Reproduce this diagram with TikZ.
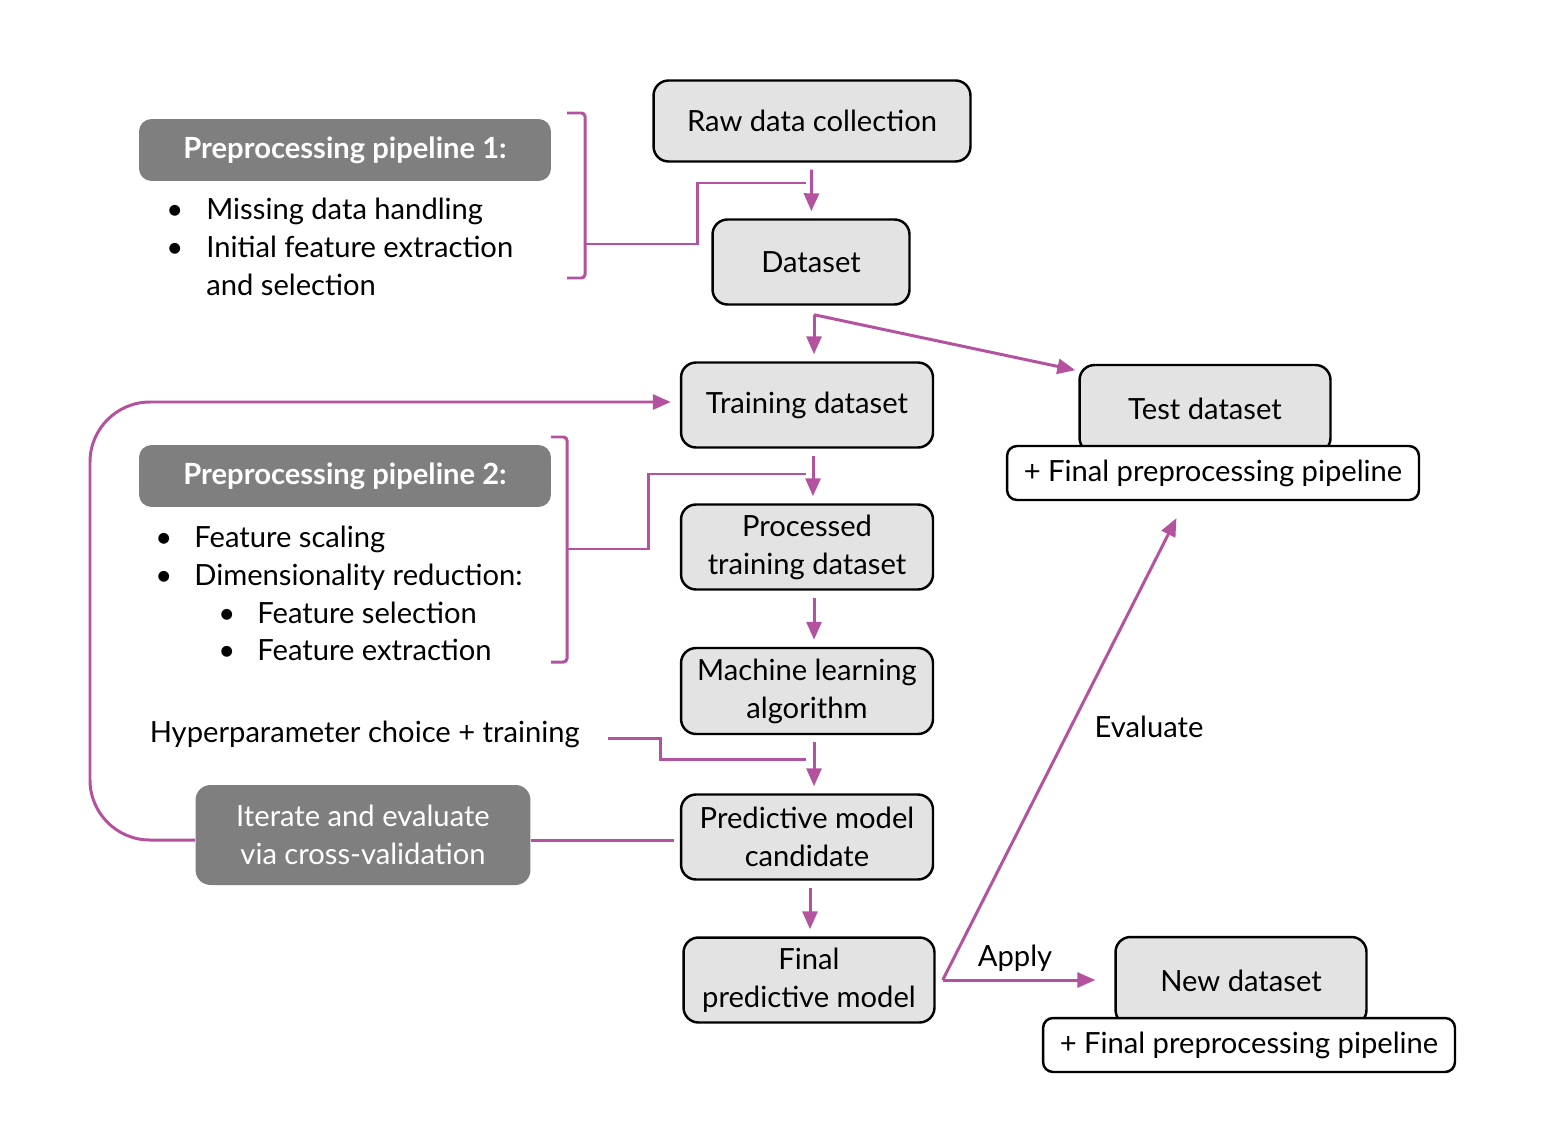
\documentclass[tikz,border=0pt]{standalone}
\usepackage{fontspec}
\setmainfont{Lato}
\usetikzlibrary{arrows.meta,calc}

\definecolor{flowmag}{RGB}{181,82,159}
\definecolor{boxgray}{RGB}{227,227,227}
\definecolor{headgray}{RGB}{127,127,127}

\tikzset{
  stagebox/.style={draw=black, line width=1.4pt, fill=boxgray, rounded corners=0.3cm,
    minimum width=5.04cm, minimum height=1.7cm, align=center, inner sep=2pt},
  plusbox/.style={draw=black, line width=1.4pt, fill=white, rounded corners=0.2cm,
    minimum width=8.24cm, minimum height=1.08cm},
  headbox/.style={fill=headgray, text=white, rounded corners=0.25cm,
    minimum width=8.24cm, minimum height=1.24cm, align=center},
  itemtext/.style={anchor=base west, inner sep=0pt},
  link/.style={draw=flowmag, line width=1.7pt},
  flow/.style={link, -{Triangle[width=0.3cm,length=0.36cm]},
    shorten >=0.14cm, shorten <=0.14cm},
}

\begin{document}
\begin{tikzpicture}[x=0.02cm, y=-0.02cm, font=\fontsize{16.6}{21.6}\selectfont]
    \useasboundingbox (0,0) rectangle (1550,1142);

    % Main stages
    \node[stagebox, minimum width=6.34cm, minimum height=1.62cm] (raw) at (812,121) {Raw data collection};
    \node[stagebox, minimum width=3.94cm] (dataset) at (811,262) {Dataset};
    \node[stagebox] (train) at (807,405) {Training dataset};
    \node[stagebox] (proc) at (807,547) {Processed\\training dataset};
    \node[stagebox, minimum height=1.72cm] (mlalg) at (807,691) {Machine learning\\algorithm};
    \node[stagebox] (cand) at (807,837) {Predictive model\\candidate};
    \node[stagebox, minimum width=5.02cm] (final) at (809,980) {Final\\predictive model};

    % Test and new data
    \node[stagebox, minimum width=5.02cm, minimum height=1.76cm] (test) at (1205,409) {Test dataset};
    \node[plusbox] (testplus) at (1213,473) {+ Final preprocessing pipeline};
    \node[stagebox, minimum width=5.02cm, minimum height=1.76cm] (new) at (1241,981) {New dataset};
    \node[plusbox] (newplus) at (1249,1045) {+ Final preprocessing pipeline};

    % Pipeline 1
    \node[headbox] (pp1) at (345,150) {\bfseries Preprocessing pipeline 1:};
    \node[itemtext] (pp1a) at (166,219) {•};
    \node[itemtext] (pp1b) at (166,257) {•};
    \node[itemtext] at (206,219) {Missing data handling};
    \node[itemtext] at (206,257) {Initial feature extraction};
    \node[itemtext] at (206,295) {and selection};

    % Pipeline 2
    \node[headbox] (pp2) at (345,476) {\bfseries Preprocessing pipeline 2:};
    \node[itemtext] (pp2a) at (155,547) {•};
    \node[itemtext] (pp2b) at (155,585) {•};
    \node[itemtext] (pp2c) at (218,623) {•};
    \node[itemtext] (pp2d) at (218,660) {•};
    \node[itemtext] at (194,547) {Feature scaling};
    \node[itemtext] at (194,585) {Dimensionality reduction:};
    \node[itemtext] at (257,623) {Feature selection};
    \node[itemtext] at (257,660) {Feature extraction};

    % Training loop
    \node[anchor=east, inner sep=0pt] (hyper) at (580,734) {Hyperparameter choice + training};
    \node[headbox, minimum width=6.7cm, minimum height=2cm, rounded corners=0.3cm] (iter) at (363,835)
        {Iterate and evaluate\\via cross-validation};

    % Vertical flow
    \draw[flow] (raw) -- (dataset);
    \coordinate (split) at ($(dataset.south)+(3,9)$);
    \draw[flow, shorten <=0pt] (split) -- (split |- train.north);
    \draw[flow, shorten <=0pt, shorten >=0.06cm] (split) -- ($(test.north west)+(0,7)$);
    \draw[flow] (train.south -| 813,0) -- (proc.north -| 813,0);
    \draw[flow] (proc.south -| 814,0) -- (mlalg.north -| 814,0);
    \draw[flow] (mlalg.south -| 814,0) -- (cand.north -| 814,0);
    \draw[flow] (cand.south -| 810,0) -- (final.north -| 810,0);

    % Brackets
    \draw[link, rounded corners=2pt] (567,113) -- (585,113) -- (585,278) -- (567,278);
    \draw[link] (585,244) -| (697,183) -- (806,183);
    \draw[link, rounded corners=2pt] (551,437) -- (567,437) -- (567,662) -- (551,662);
    \draw[link] (567,549) -| (648,474) -- (806,474);
    \draw[link] ($(hyper.east)+(28,4)$) -| (660,759) -- (806,759);

    % Cross-validation loop
    \draw[flow, rounded corners=1.2cm, shorten <=0pt, shorten >=0.18cm] (iter.west |- 0,840) -- (90,840) -- (90,402) -- (train.west |- 0,402);
    \draw[link, shorten >=0.12cm] (iter.east |- 0,840) -- (cand.west |- 0,840);

    % Apply and evaluate
    \coordinate (fout) at ($(final.east)+(7,0)$);
    \draw[flow, shorten <=0pt, shorten >=0.38cm] (fout) -- (new.west |- fout);
    \draw[flow, shorten <=0pt, shorten >=0.38cm] (fout) -- ($(testplus.south)+(-28,0)$);
    \node (apply) at (1015,958) {Apply};
    \node (evaluate) at (1149,727) {Evaluate};

\end{tikzpicture}
\end{document}
